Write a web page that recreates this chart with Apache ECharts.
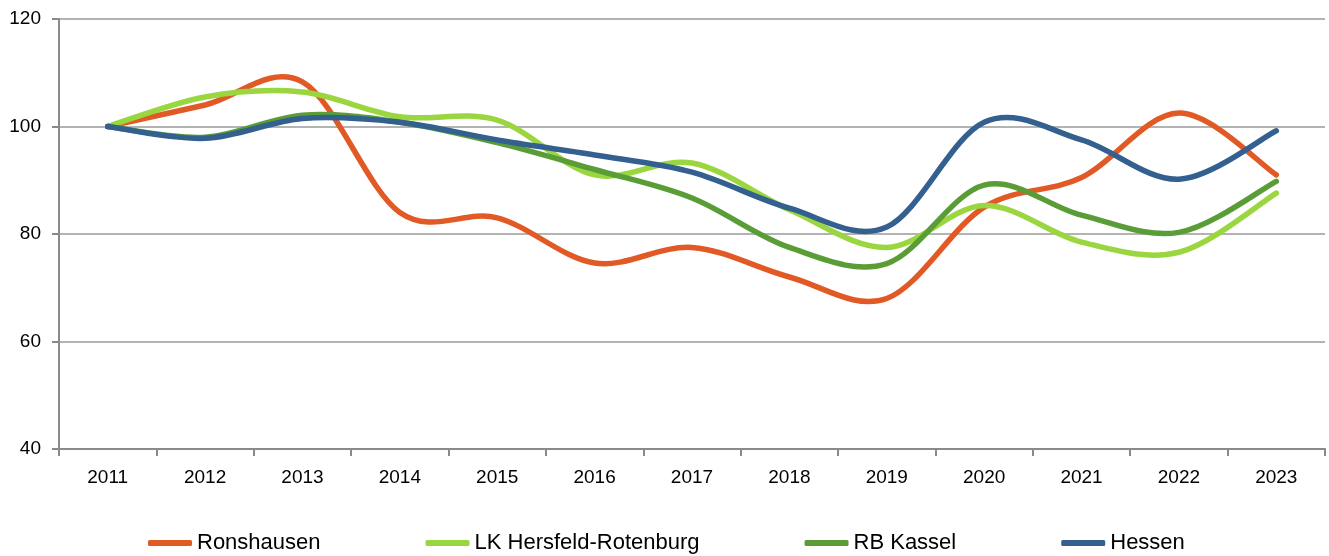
<!DOCTYPE html>
<html>
<head>
<meta charset="utf-8">
<script src="https://cdn.jsdelivr.net/npm/echarts@6/dist/echarts.min.js"></script>
<style>
  html, body { margin: 0; padding: 0; background: #fff; }
  #chart { width: 1329px; height: 556px; }
</style>
</head>
<body>
<div id="chart"></div>
<script>
// Jahre (x-Achse)
var years = ['2011', '2012', '2013', '2014', '2015', '2016', '2017', '2018', '2019', '2020', '2021', '2022', '2023'];
var seriesNames = ['Ronshausen', 'LK Hersfeld-Rotenburg', 'RB Kassel', 'Hessen'];
// Index 2011 = 100
var ronshausen = [100, 104, 108.3, 84, 83, 74.6, 77.5, 72, 68, 85, 90.5, 102.5, 91];
var lkHersfeld = [100, 105.5, 106.4, 101.8, 101.2, 91, 93.2, 84.5, 77.5, 85.3, 78.5, 76.6, 87.6];
var rbKassel   = [100, 98, 102.1, 100.8, 97, 92, 86.7, 77.5, 74.5, 89.1, 83.5, 80.3, 89.8];
var hessen     = [100, 97.8, 101.5, 100.8, 97.5, 94.7, 91.5, 84.8, 81.3, 100.8, 97.5, 90.2, 99.2];
var yTicks = [40, 60, 80, 100, 120];

var colors = ['#E15A26', '#9AD63F', '#5A9D37', '#33608F'];
var fontFam = '"Liberation Sans", Arial, sans-serif';

var chart = echarts.init(document.getElementById('chart'));

// Excel-artige Glättung (Catmull-Rom), Punkte kommen aus api.coord
function mkLine(name, values, color) {
  return {
    name: name,
    type: 'custom',
    animation: false,
    itemStyle: { color: color },
    data: values.map(function (v, i) { return [i, v]; }),
    renderItem: function (params, api) {
      if (params.dataIndex !== 0) return null;
      var pts = values.map(function (v, i) { return api.coord([i, v]); });
      var d = 'M' + pts[0][0] + ' ' + pts[0][1];
      for (var i = 0; i < pts.length - 1; i++) {
        var p0 = pts[Math.max(i - 1, 0)], p1 = pts[i], p2 = pts[i + 1], p3 = pts[Math.min(i + 2, pts.length - 1)];
        var c1x = p1[0] + (p2[0] - p0[0]) / 6, c1y = p1[1] + (p2[1] - p0[1]) / 6;
        var c2x = p2[0] - (p3[0] - p1[0]) / 6, c2y = p2[1] - (p3[1] - p1[1]) / 6;
        d += ' C' + c1x + ' ' + c1y + ' ' + c2x + ' ' + c2y + ' ' + p2[0] + ' ' + p2[1];
      }
      return {
        type: 'path',
        shape: { pathData: d },
        style: { fill: null, stroke: color, lineWidth: 5.5, lineCap: 'round', lineJoin: 'round' }
      };
    }
  };
}

chart.setOption({
  color: colors,
  grid: { left: 59, right: 4, top: 19, bottom: 107, containLabel: false },
  legend: {
    data: seriesNames,
    left: 143,
    top: 527,
    itemGap: 105,
    itemWidth: 44,
    itemHeight: 6,
    icon: 'roundRect',
    textStyle: { fontFamily: fontFam, fontSize: 22, color: '#000' }
  },
  xAxis: {
    type: 'category',
    data: years,
    boundaryGap: true,
    axisLine: { lineStyle: { color: '#8a8a8a', width: 2 } },
    axisTick: { show: true, length: 7, lineStyle: { color: '#8a8a8a', width: 2 } },
    axisLabel: { fontFamily: fontFam, fontSize: 19, color: '#000', margin: 19 },
    splitLine: { show: false }
  },
  yAxis: {
    type: 'value',
    min: yTicks[0],
    max: yTicks[yTicks.length - 1],
    interval: 20,
    axisLine: { show: true, lineStyle: { color: '#8a8a8a', width: 2 } },
    axisTick: { show: true, length: 7, lineStyle: { color: '#8a8a8a', width: 2 } },
    axisLabel: { fontFamily: fontFam, fontSize: 19, color: '#000', margin: 18 },
    splitLine: { show: true, lineStyle: { color: '#b3b3b3', width: 2 } }
  },
  series: [
    mkLine(seriesNames[0], ronshausen, colors[0]),
    mkLine(seriesNames[1], lkHersfeld, colors[1]),
    mkLine(seriesNames[2], rbKassel, colors[2]),
    mkLine(seriesNames[3], hessen, colors[3])
  ]
});
</script>
</body>
</html>
